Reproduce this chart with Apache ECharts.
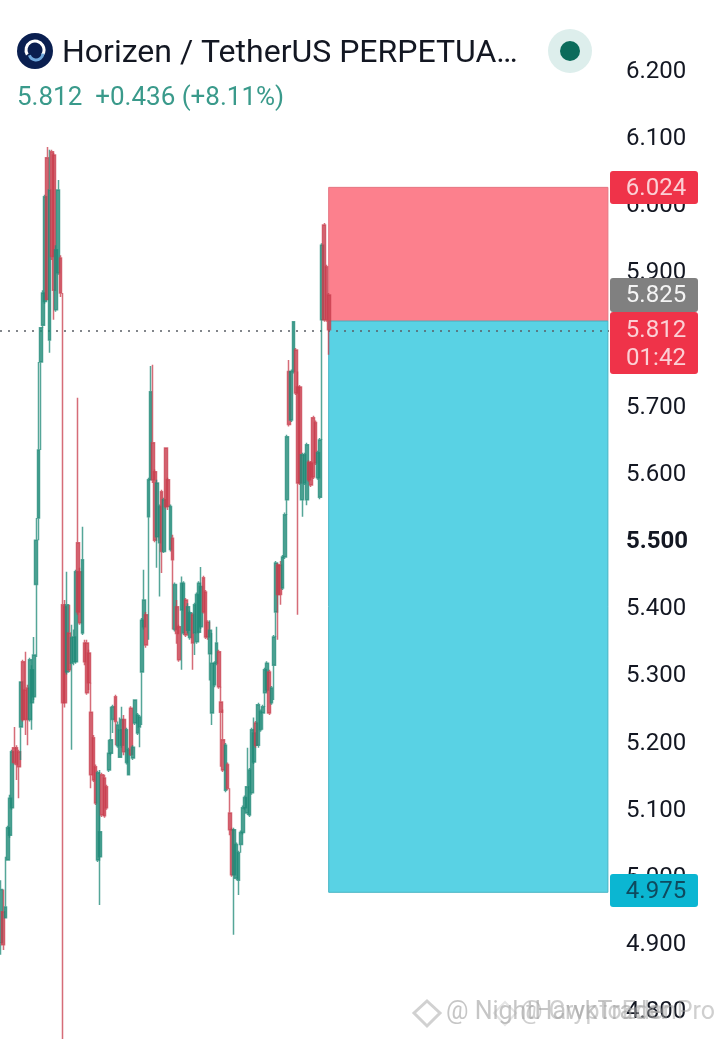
<!DOCTYPE html>
<html>
<head>
<meta charset="utf-8">
<style>html,body{margin:0;padding:0;background:#fff}#c{width:719px;height:1039px}</style>
<script src="https://cdn.jsdelivr.net/npm/echarts@6/dist/echarts.min.js"></script>
</head>
<body>
<div id="c"></div>
<script>
// [open, close, low, high]
const candles = [
[4.900,4.979,4.882,4.993],[4.946,4.897,4.889,4.979],[4.937,4.953,4.937,5.028],[5.023,5.071,5.023,5.074],[5.060,5.115,5.056,5.120],
[5.101,5.184,5.098,5.187],[5.190,5.168,5.165,5.221],[5.190,5.165,5.142,5.194],[5.184,5.162,5.115,5.187],[5.221,5.288,5.172,5.288],
[5.318,5.232,5.229,5.321],[5.276,5.232,5.209,5.333],[5.279,5.232,5.194,5.284],[5.232,5.321,5.229,5.324],
[5.257,5.306,5.217,5.313],[5.266,5.328,5.261,5.355],[5.433,5.499,5.325,5.532],[5.532,5.633,5.499,5.764],[5.764,5.815,5.633,5.815],
[5.819,5.867,5.815,5.871],[5.854,6.010,5.851,6.013],[6.068,5.857,5.857,6.084],[5.797,6.020,5.778,6.080],[6.077,5.921,5.916,6.080],
[6.072,5.871,5.827,6.075],[5.842,5.931,5.839,5.938],[5.897,6.020,5.894,6.035],[5.919,5.867,5.861,5.923],[5.403,5.257,4.720,5.867],
[5.400,5.257,5.250,5.410],[5.303,5.403,5.299,5.452],[5.361,5.306,5.303,5.403],[5.316,5.354,5.187,5.373],[5.318,5.355,5.313,5.366],
[5.318,5.452,5.315,5.455],[5.495,5.392,5.388,5.711],[5.452,5.376,5.373,5.458],[5.361,5.470,5.358,5.519],[5.346,5.318,5.313,5.351],
[5.346,5.272,5.269,5.351],[5.331,5.287,5.276,5.336],[5.243,5.150,5.130,5.287],[5.205,5.142,5.139,5.209],[5.162,5.108,5.105,5.165],
[5.023,5.153,5.020,5.156],[5.028,5.065,4.956,5.157],[5.150,5.090,5.087,5.153],[5.145,5.089,5.086,5.150],[5.132,5.101,5.098,5.135],
[5.157,5.182,5.154,5.202],[5.182,5.202,5.179,5.251],[5.232,5.251,5.212,5.254],[5.266,5.229,5.194,5.269],[5.193,5.224,5.190,5.229],
[5.176,5.217,5.176,5.235],[5.194,5.232,5.190,5.251],[5.232,5.184,5.179,5.239],[5.168,5.217,5.165,5.220],
[5.150,5.187,5.150,5.190],[5.249,5.180,5.178,5.252],[5.175,5.191,5.172,5.194],[5.227,5.261,5.224,5.261],[5.212,5.239,5.209,5.242],
[5.221,5.236,5.191,5.239],[5.303,5.380,5.224,5.383],[5.370,5.410,5.366,5.455],[5.388,5.343,5.339,5.392],[5.534,5.589,5.351,5.592],
[5.589,5.720,5.589,5.758],[5.644,5.589,5.584,5.760],[5.601,5.499,5.496,5.604],[5.504,5.584,5.458,5.589],[5.495,5.549,5.415,5.552],
[5.571,5.482,5.450,5.574],[5.482,5.559,5.480,5.562],[5.636,5.549,5.546,5.636],[5.589,5.549,5.544,5.592],[5.485,5.549,5.482,5.552],
[5.502,5.470,5.366,5.507],[5.366,5.433,5.363,5.436],[5.400,5.360,5.345,5.410],[5.370,5.321,5.318,5.373],[5.395,5.435,5.306,5.445],[5.361,5.435,5.358,5.438],
[5.410,5.358,5.355,5.413],[5.365,5.400,5.360,5.405],[5.354,5.391,5.351,5.394],[5.388,5.346,5.306,5.391],[5.361,5.403,5.328,5.406],[5.348,5.418,5.345,5.421],
[5.362,5.435,5.360,5.438],[5.370,5.430,5.367,5.459],[5.443,5.392,5.390,5.446],[5.422,5.355,5.352,5.425],[5.377,5.355,5.351,5.380],[5.330,5.365,5.290,5.380],
[5.242,5.316,5.224,5.361],[5.284,5.316,5.280,5.319],[5.316,5.346,5.313,5.370],[5.333,5.281,5.278,5.336],[5.258,5.243,5.162,5.281],
[5.202,5.157,5.154,5.247],[5.127,5.194,5.124,5.197],[5.165,5.130,5.127,5.168],[5.093,5.068,5.060,5.130],[5.068,5.001,4.998,5.071],
[5.001,5.068,4.912,5.071],[4.996,5.046,4.993,5.049],[4.993,5.034,4.971,5.037],[5.046,5.064,5.034,5.067],[5.064,5.101,5.061,5.104],
[5.101,5.116,5.098,5.119],[5.093,5.132,5.090,5.190],[5.090,5.157,5.087,5.160],[5.123,5.217,5.120,5.220],[5.169,5.212,5.166,5.235],
[5.227,5.194,5.190,5.230],[5.194,5.254,5.190,5.257],[5.217,5.244,5.214,5.247],[5.242,5.251,5.217,5.254],[5.272,5.306,5.251,5.309],
[5.276,5.316,5.273,5.319],[5.303,5.242,5.239,5.306],[5.257,5.279,5.254,5.282],[5.313,5.355,5.261,5.358],[5.392,5.465,5.355,5.468],
[5.462,5.418,5.351,5.465],[5.462,5.418,5.403,5.468],[5.428,5.474,5.425,5.477],[5.474,5.537,5.471,5.540],[5.559,5.653,5.537,5.656],
[5.750,5.671,5.668,5.767],[5.678,5.750,5.675,5.753],[5.750,5.824,5.747,5.824],[5.782,5.718,5.715,5.785],
[5.727,5.584,5.388,5.750],[5.727,5.584,5.581,5.730],[5.559,5.626,5.534,5.629],[5.584,5.626,5.581,5.629],[5.559,5.641,5.551,5.644],
[5.615,5.589,5.586,5.618],[5.614,5.581,5.578,5.617],[5.681,5.593,5.590,5.684],[5.674,5.614,5.611,5.677],[5.592,5.629,5.589,5.632],
[5.563,5.648,5.560,5.651],[5.827,5.938,5.648,5.941],[5.968,5.827,5.824,5.971],[5.906,5.827,5.824,5.909],[5.864,5.812,5.775,5.867]
];
const emptySlots = 127;
const lastPrice = 5.812;
const stopPrice = 6.024;
const entryPrice = 5.825;
const targetPrice = 4.975;
const tagTexts = ['6.024', '5.825', '5.812', '4.975'];
const countdown = '01:42';
const titleText = 'Horizen / TetherUS PERPETUA…';
const quoteText = '5.812  +0.436 (+8.11%)';

const categories = [];
for (let i = 0; i < candles.length + emptySlots; i++) categories.push('c' + i);
const posStart = candles.length - 1;
const posEnd = categories.length - 1;
const fontFam = 'Roboto, sans-serif';

// axis spans beyond the canvas so that 5.500 sits at 539.5px with 672px per unit
const yMin = 4.7, yMax = 6.4, pxPerUnit = 672;
const gridTop = 539.5 - (yMax - 5.5) * pxPerUnit;
const gridHeight = (yMax - yMin) * pxPerUnit;

const tagStyles = [
  {top: 171, h: 33, fill: '#EF3349', color: '#FBD0D5', price: stopPrice},
  {top: 278, h: 34, fill: '#808080', color: '#F4F4F4', price: entryPrice},
  {top: 312, h: 62, fill: '#EF3349', color: '#FBD0D5', price: lastPrice, sub: countdown},
  {top: 874, h: 33, fill: '#0BB6D2', color: '#0E4A5E', price: targetPrice}
];

const chart = echarts.init(document.getElementById('c'), null, {renderer: 'canvas'});
chart.setOption({
  animation: false,
  backgroundColor: '#fff',
  title: [
    {text: titleText, left: 62, top: 36, padding: 0, textStyle: {fontFamily: fontFam, fontSize: 32, fontWeight: 400, color: '#131722', lineHeight: 36}},
    {text: quoteText, left: 17, top: 83, padding: 0, textStyle: {fontFamily: fontFam, fontSize: 26, fontWeight: 400, color: '#3A9A8B', lineHeight: 30}}
  ],
  grid: {left: 0, right: 110, top: gridTop, height: gridHeight, containLabel: false, outerBoundsMode: 'none'},
  xAxis: {type: 'category', data: categories, show: false, boundaryGap: true},
  yAxis: {
    type: 'value', position: 'right', min: yMin, max: yMax, interval: 0.1,
    splitLine: {show: false}, axisLine: {show: false}, axisTick: {show: false},
    axisLabel: {
      margin: 17, color: '#131722', fontFamily: fontFam, fontSize: 24, align: 'left', padding: [5, 0, 0, 0],
      showMinLabel: false, showMaxLabel: false,
      formatter: function (v) {
        const r = Math.round(v * 10) / 10;
        if (r > 6.25 || r < 4.75) return '';
        if (r === 5.5) return '{b|' + r.toFixed(3) + '}';
        return r.toFixed(3);
      },
      rich: {b: {fontWeight: 700, fontSize: 24, color: '#131722', fontFamily: fontFam}}
    }
  },
  series: [
    {
      type: 'candlestick',
      data: candles,
      barWidth: 3.2,
      z: 3,
      clip: true,
      itemStyle: {color: '#1F8A78', color0: '#C93E4E', borderColor: '#1F8A78', borderColor0: '#C93E4E', borderWidth: 1.5, opacity: 0.76},
      markArea: {
        silent: true,
        z: 1,
        data: [
          [{xAxis: posStart, yAxis: stopPrice, itemStyle: {color: '#FC808D', borderColor: '#E57582', borderWidth: 1}}, {xAxis: posEnd, yAxis: entryPrice}],
          [{xAxis: posStart, yAxis: entryPrice, itemStyle: {color: '#59D2E4', borderColor: '#47B4C4', borderWidth: 1}}, {xAxis: posEnd, yAxis: targetPrice}]
        ]
      },
      markLine: {
        silent: true, symbol: 'none', animation: false, z: 2,
        label: {show: false},
        lineStyle: {color: '#5A5F66', type: [2, 6], width: 1.5},
        data: [{yAxis: lastPrice}]
      }
    },
    {
      type: 'custom',
      coordinateSystem: 'cartesian2d',
      z: 10,
      clip: false,
      silent: true,
      data: tagTexts.map(function (t, i) { return [0, tagStyles[i].price, i]; }),
      renderItem: function (params, api) {
        const s = tagStyles[api.value(2)];
        const kids = [
          {type: 'rect', shape: {x: 610, y: s.top, width: 88, height: s.h, r: 3}, style: {fill: s.fill}},
          {type: 'text', style: {x: 656, y: s.top + 18 + (s.sub ? 1 : 0), text: tagTexts[api.value(2)], fill: s.color, font: '24px ' + fontFam, align: 'center', verticalAlign: 'middle'}}
        ];
        if (s.sub) kids.push({type: 'text', style: {x: 656, y: s.top + 47, text: s.sub, fill: s.color, font: '24px ' + fontFam, align: 'center', verticalAlign: 'middle'}});
        return {type: 'group', children: kids};
      }
    }
  ],
  graphic: [
    {type: 'circle', shape: {cx: 35, cy: 51, r: 18}, style: {fill: '#0A1F50'}, z: 20},
    {type: 'arc', shape: {cx: 35, cy: 50, r: 9, startAngle: 2.6, endAngle: 0.6}, style: {stroke: '#FFFFFF', lineWidth: 3, fill: 'none'}, z: 21},
    {type: 'arc', shape: {cx: 36, cy: 53, r: 7, startAngle: 0.1, endAngle: 2.8}, style: {stroke: '#6FA8DC', lineWidth: 3, fill: 'none'}, z: 22},
    {type: 'circle', shape: {cx: 570, cy: 51, r: 22}, style: {fill: '#DDEEEC'}, z: 20},
    {type: 'circle', shape: {cx: 570, cy: 51, r: 10}, style: {fill: '#0B6B5B'}, z: 21},
    {type: 'polygon', shape: {points: [[427, 1001], [440, 1013], [427, 1026], [414, 1013]]}, style: {fill: 'none', stroke: 'rgba(190,190,190,0.7)', lineWidth: 3}, z: 20},
    {type: 'polygon', shape: {points: [[505, 1002], [516, 1013], [505, 1025], [494, 1013]]}, style: {fill: 'none', stroke: 'rgba(190,190,190,0.4)', lineWidth: 2}, z: 20},
    {type: 'text', style: {x: 446, y: 1013, text: '@ NightHawkTrader', fill: 'rgba(160,160,160,0.6)', font: '25px ' + fontFam, verticalAlign: 'middle'}, z: 21},
    {type: 'text', style: {x: 520, y: 1013, text: '@ CryptoEdenPro', fill: 'rgba(160,160,160,0.5)', font: '25px ' + fontFam, verticalAlign: 'middle'}, z: 21}
  ]
});
</script>
</body>
</html>
